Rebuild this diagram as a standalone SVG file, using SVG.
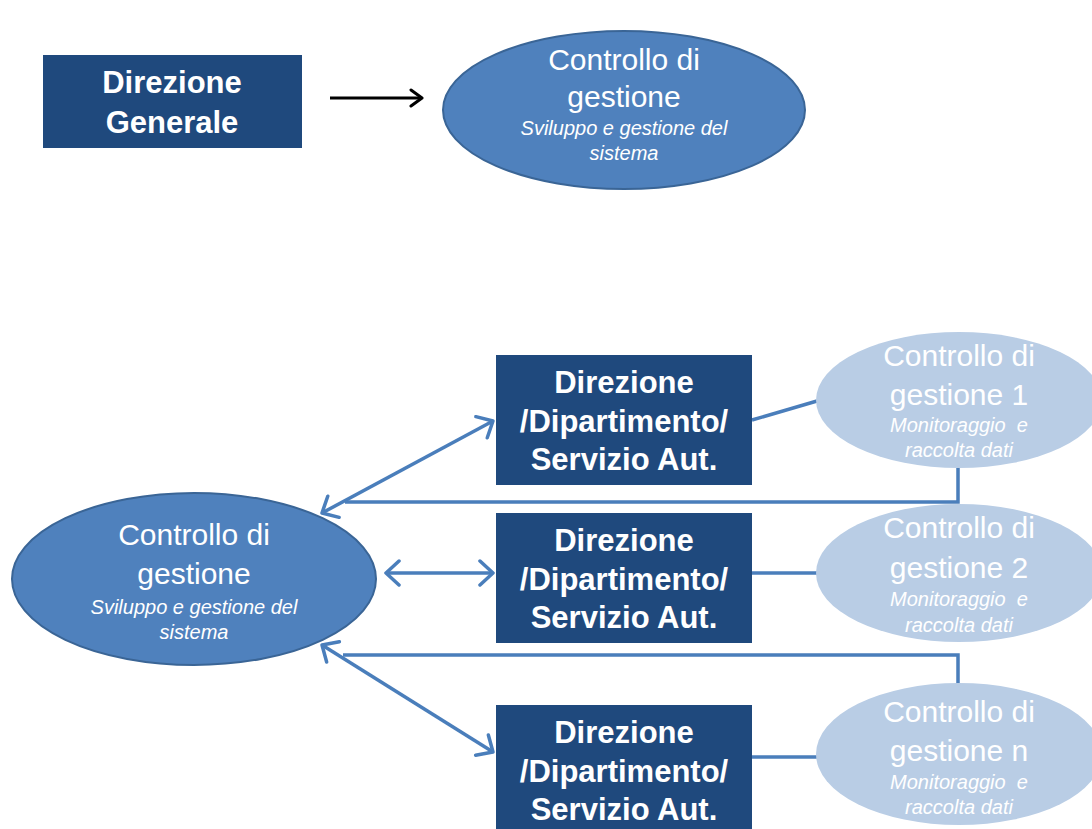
<svg xmlns="http://www.w3.org/2000/svg" width="1092" height="829" viewBox="0 0 1092 829">
<style>
.box{fill:#1f497d;}
.ell{fill:#4f81bd;stroke:#3a6596;stroke-width:2;}
.lell{fill:#b9cde5;}
.bt{font-family:"Liberation Sans",Arial,sans-serif;font-weight:bold;font-size:31px;fill:#ffffff;text-anchor:middle;}
.et{font-family:"Liberation Sans",Arial,sans-serif;font-size:30px;fill:#ffffff;text-anchor:middle;}
.it{font-family:"Liberation Sans",Arial,sans-serif;font-style:italic;font-size:20px;fill:#ffffff;text-anchor:middle;white-space:pre;}
.con{fill:none;stroke:#4a7ebb;stroke-width:3.5;}
</style>
<defs>
<marker id="ah" viewBox="0 0 20 28" refX="16" refY="14" markerWidth="20" markerHeight="28" markerUnits="userSpaceOnUse" orient="auto-start-reverse">
<path d="M3,2 L16,14 L3,26" fill="none" stroke="#4a7ebb" stroke-width="3.5" stroke-linecap="round" stroke-linejoin="round"/>
</marker>
<marker id="ahk" viewBox="0 0 16 20" refX="13" refY="10" markerWidth="16" markerHeight="20" markerUnits="userSpaceOnUse" orient="auto">
<path d="M2,2 L13,10 L2,18" fill="none" stroke="#000000" stroke-width="3" stroke-linecap="round" stroke-linejoin="round"/>
</marker>
</defs>
<rect width="1092" height="829" fill="#ffffff"/>

<g id="connectors">
<line x1="330" y1="98" x2="422" y2="98" stroke="#000000" stroke-width="3" marker-end="url(#ahk)"/>
<line class="con" x1="322" y1="513" x2="493" y2="421" marker-start="url(#ah)" marker-end="url(#ah)"/>
<line class="con" x1="386" y1="573" x2="493" y2="573" marker-start="url(#ah)" marker-end="url(#ah)"/>
<line class="con" x1="322" y1="645" x2="493" y2="752" marker-start="url(#ah)" marker-end="url(#ah)"/>
<polyline class="con" points="958,468 958,502 345,502"/>
<polyline class="con" points="958,686 958,655 343,655"/>
<line class="con" x1="752" y1="420" x2="817" y2="401"/>
<line class="con" x1="752" y1="573" x2="817" y2="573"/>
<line class="con" x1="752" y1="757" x2="817" y2="757"/>
</g>

<g id="dir-generale">
<rect class="box" x="43" y="55" width="259" height="93"/>
<text class="bt" x="172" y="93">Direzione</text>
<text class="bt" x="172" y="133">Generale</text>
</g>

<g id="cdg-top">
<ellipse class="ell" cx="624" cy="110" rx="181" ry="79"/>
<text class="et" x="624" y="70">Controllo di</text>
<text class="et" x="624" y="107">gestione</text>
<text class="it" x="624" y="135">Sviluppo e gestione del</text>
<text class="it" x="624" y="160">sistema</text>
</g>

<g id="cdg-main">
<ellipse class="ell" cx="194" cy="579" rx="182" ry="86"/>
<text class="et" x="194" y="545">Controllo di</text>
<text class="et" x="194" y="584">gestione</text>
<text class="it" x="194" y="614">Sviluppo e gestione del</text>
<text class="it" x="194" y="639">sistema</text>
</g>

<g id="dir1">
<rect class="box" x="496" y="355" width="256" height="130"/>
<text class="bt" x="624" y="393">Direzione</text>
<text class="bt" x="624" y="432">/Dipartimento/</text>
<text class="bt" x="624" y="470">Servizio Aut.</text>
</g>

<g id="dir2">
<rect class="box" x="496" y="513" width="256" height="130"/>
<text class="bt" x="624" y="551">Direzione</text>
<text class="bt" x="624" y="590">/Dipartimento/</text>
<text class="bt" x="624" y="628">Servizio Aut.</text>
</g>

<g id="dir3">
<rect class="box" x="496" y="705" width="256" height="130"/>
<text class="bt" x="624" y="743">Direzione</text>
<text class="bt" x="624" y="782">/Dipartimento/</text>
<text class="bt" x="624" y="820">Servizio Aut.</text>
</g>

<g id="cdg1">
<ellipse class="lell" cx="959" cy="400" rx="143" ry="68"/>
<text class="et" x="959" y="366">Controllo di</text>
<text class="et" x="959" y="405">gestione 1</text>
<text class="it" x="959" y="432">Monitoraggio  e</text>
<text class="it" x="959" y="457">raccolta dati</text>
</g>

<g id="cdg2">
<ellipse class="lell" cx="959" cy="573" rx="143" ry="69"/>
<text class="et" x="959" y="538">Controllo di</text>
<text class="et" x="959" y="578">gestione 2</text>
<text class="it" x="959" y="606">Monitoraggio  e</text>
<text class="it" x="959" y="632">raccolta dati</text>
</g>

<g id="cdgn">
<ellipse class="lell" cx="959" cy="754" rx="143" ry="71"/>
<text class="et" x="959" y="722">Controllo di</text>
<text class="et" x="959" y="761">gestione n</text>
<text class="it" x="959" y="789">Monitoraggio  e</text>
<text class="it" x="959" y="814">raccolta dati</text>
</g>
</svg>
